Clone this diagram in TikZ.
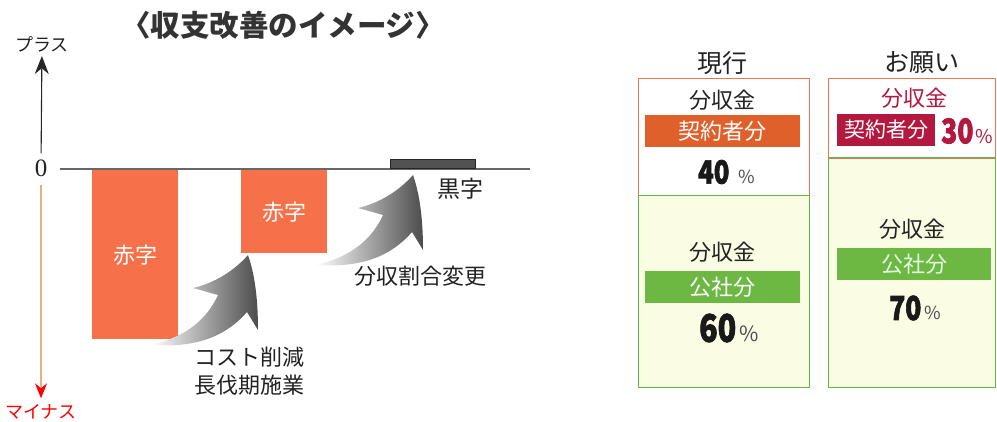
\documentclass[tikz,border=0pt]{standalone}
\usepackage{fontspec}
\setmainfont{Noto Sans CJK JP}
\newfontfamily\seriffont{Liberation Serif}
\newfontfamily\numfont{Noto Sans CJK JP}[FakeBold=2.2]
\usetikzlibrary{arrows.meta}
\definecolor{barorange}{HTML}{F6714A}
\definecolor{bandorange}{HTML}{E0602C}
\definecolor{boxorange}{HTML}{E07A52}
\definecolor{boxgreen}{HTML}{5FB846}
\definecolor{bandgreen}{HTML}{6DB843}
\definecolor{cream}{HTML}{FAFCE4}
\definecolor{crimson}{HTML}{B3183F}
\definecolor{tan}{HTML}{E6B088}
\definecolor{txt}{HTML}{222222}
\newcommand\fs[1]{\fontsize{#1}{#1}\selectfont}
\newcommand\bignum[3]{\scalebox{#3}[1]{\numfont\bfseries\fs{#1}#2}}
\tikzset{
  lbl/.style={inner sep=0pt, text=txt, font=\fs{22}},
  bar/.style={fill=barorange, draw=none, anchor=north west, text=white, font=\fs{22}},
  topbox/.style={fill=white, draw=boxorange, line width=1.4pt, anchor=north west},
  botbox/.style={fill=cream, draw=boxgreen, line width=1.4pt, anchor=north west},
  band/.style={minimum height=32pt, inner sep=0pt, text=white, font=\fs{22}},
  pct/.style={inner sep=0pt, anchor=west, text=black!90},
  bigarrow/.pic={
    \shade[left color=white, right color=black!70]
      (0,0) .. controls (35,2) and (70,-2) .. (97,-33)
      -- (108,-15)
      .. controls (108,-45) and (105,-70) .. (98,-90)
      .. controls (85,-75) and (65,-62) .. (43,-57)
      -- (68,-50)
      .. controls (58,-28) and (38,-8) .. (0,0);
  }
}
\begin{document}
\begin{tikzpicture}[x=1pt,y=-1pt]
\useasboundingbox (0,0) rectangle (997,421);
% title
\node[lbl, font=\fs{29.5}\bfseries, text=black!80] (title) at (283,25) {〈収支改善のイメージ〉};
% axis labels
\node[lbl, font=\fs{18}] (plus) at (42,44) {プラス};
\node[lbl, font=\seriffont\fs{25}] (zero) at (41,168) {0};
\node[lbl, font=\fs{18}, text=red] (minus) at (41,412) {マイナス};
\draw[black!85, line width=1.1pt, -{Stealth[length=18pt,width=14pt]}, shorten <=6pt, shorten >=4pt] (zero) -- (plus);
\draw[tan, line width=1.2pt, -{Stealth[length=15pt,width=12pt,color=red]}, shorten <=8pt, shorten >=6pt] (zero) -- (minus);
% horizontal axis
\draw[black!60, line width=1.4pt] (60,169) -- (530,169);
% bars
\node[bar, minimum width=86pt, minimum height=169pt] (bar1) at (92,170) {赤字};
\node[bar, minimum width=86pt, minimum height=83pt] (bar2) at (241,170) {赤字};
\node[fill=black!68, draw=black!85, line width=0.6pt, minimum width=85pt, minimum height=9pt, inner sep=0pt, anchor=south west] (blackbar) at (390,169) {};
\node[lbl, font=\fs{23}] (kuroji) at (460,189) {黒字};
% curved arrows
\pic at (150,345) {bigarrow};
\pic at (315,265) {bigarrow};
\node[lbl, align=center, font=\fontsize{22}{28}\selectfont] (cost) at (249,371) {コスト削減\\長伐期施業};
\node[lbl] (change) at (420,276) {分収割合変更};
% right side headings
\node[lbl, font=\fs{25}] (genko) at (722,63) {現行};
\node[lbl, font=\fs{25}] (onegai) at (922,63) {お願い};
% box 1 (current)
\node[topbox, minimum width=171pt, minimum height=117pt] (b1top) at (638,78) {};
\node[botbox, minimum width=171pt, minimum height=192pt] (b1bot) at (638,195) {};
\node[lbl] (b1t1) at (722,100) {分収金};
\node[band, fill=bandorange, minimum width=155pt] (b1band) at (722.5,131) {契約者分};
\node[pct] (b1pct) at (698,172) {\bignum{32}{40}{0.8}\hspace{9pt}{\fs{18}\color{black!70}\%}};
\node[lbl] (b1t2) at (722,252) {分収金};
\node[band, fill=bandgreen, minimum width=155pt] (b1band2) at (722.5,287) {公社分};
\node[pct] (b1pct2) at (699,328) {\bignum{38}{60}{0.8}\hspace{3pt}{\fs{21}\color{black!70}\%}};
% box 2 (request)
\node[topbox, minimum width=167pt, minimum height=79pt] (b2top) at (828,78) {};
\node[botbox, minimum width=167pt, minimum height=230pt] (b2bot) at (828,157) {};
\draw[boxorange, line width=1.4pt] (b2top.south west) -- (b2top.south east);
\node[lbl, text=crimson] (b2t1) at (914,98) {分収金};
\node[band, fill=crimson, minimum width=98pt, font=\fs{21}] (b2band) at (886,130) {契約者分};
\node[pct, text=crimson] (b2num) at (941,131) {\bignum{34}{30}{0.78}\hspace{2pt}{\fs{19}\%}};
\node[lbl] (b2t2) at (912,229) {分収金};
\node[band, fill=bandgreen, minimum width=154pt, text=green!10!white] (b2band2) at (914,264) {公社分};
\node[pct] (b2pct2) at (889,308) {\bignum{33}{70}{0.8}\hspace{3pt}{\fs{18}\color{black!70}\%}};
\end{tikzpicture}
\end{document}
